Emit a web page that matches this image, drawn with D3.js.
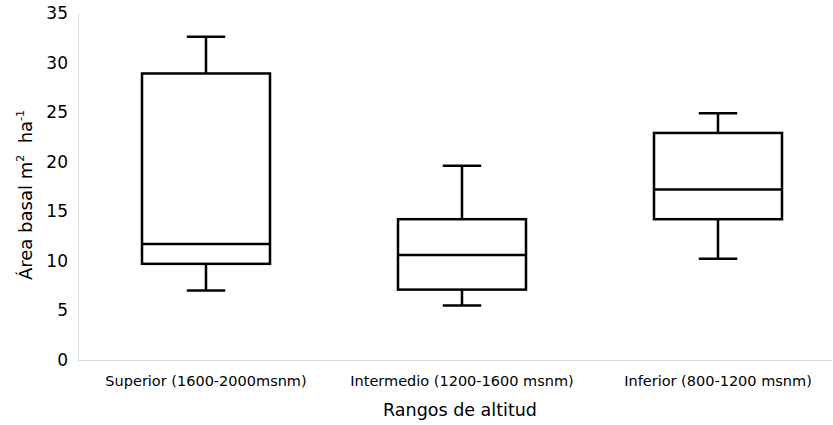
<!DOCTYPE html>
<html>
<head>
<meta charset="utf-8">
<script src="https://cdn.jsdelivr.net/npm/d3@7"></script>
<style>
  body { margin: 0; background: #fff; }
  text { font-family: "DejaVu Sans", Verdana, sans-serif; fill: #000; }
</style>
</head>
<body>
<svg></svg>
<script>
// box plot data
let categories = ['Superior (1600-2000msnm)', 'Intermedio (1200-1600 msnm)', 'Inferior (800-1200 msnm)'];
let minValues = [7.0, 5.5, 10.2];
let q1Values = [9.7, 7.1, 14.2];
let medianValues = [11.7, 10.6, 17.2];
let q3Values = [28.9, 14.2, 22.9];
let maxValues = [32.6, 19.6, 24.9];
let yTicks = [0, 5, 10, 15, 20, 25, 30, 35];

let width = 833;
let height = 425;
let svg = d3.select('svg').attr('width', width).attr('height', height);

let plotLeft = 78, plotRight = 832, plotTop = 13, plotBottom = 360;

let data = categories.map((c, i) => ({
  cat: c, min: minValues[i], q1: q1Values[i], med: medianValues[i], q3: q3Values[i], max: maxValues[i]
}));

let xScale = d3.scaleBand()
  .domain(categories)
  .range([plotLeft, plotLeft + 3 * 256])
  .padding(0);

let yScale = d3.scaleLinear()
  .domain([0, 35])
  .range([plotBottom, plotTop]);

// y axis
let yAxis = svg.append('g')
  .attr('transform', `translate(${plotLeft},0)`)
  .call(d3.axisLeft(yScale).tickValues(yTicks).tickSize(0).tickPadding(10));
yAxis.select('.domain').attr('stroke', '#d9d9d9');
yAxis.selectAll('text').style('font-size', '17px').attr('fill', '#000');

// x axis
svg.append('line')
  .attr('x1', plotLeft).attr('x2', plotRight)
  .attr('y1', plotBottom + 0.5).attr('y2', plotBottom + 0.5)
  .attr('stroke', '#d9d9d9');

let xAxis = svg.append('g')
  .attr('transform', `translate(0,${plotBottom})`)
  .call(d3.axisBottom(xScale).tickSize(0).tickPadding(16));
xAxis.select('.domain').remove();
xAxis.selectAll('text').style('font-size', '14.5px').attr('fill', '#000');

let boxW = xScale.bandwidth() * 0.5;
let capW = xScale.bandwidth() * 0.075;

let g = svg.append('g')
  .selectAll('g')
  .data(data)
  .enter()
  .append('g')
  .attr('transform', d => `translate(${xScale(d.cat) + xScale.bandwidth() / 2},0)`);

let stroke = '#000';
let sw = 2.5;

// whiskers
g.append('line')
  .attr('x1', 0).attr('x2', 0)
  .attr('y1', d => yScale(d.max)).attr('y2', d => yScale(d.q3))
  .attr('stroke', stroke).attr('stroke-width', sw);
g.append('line')
  .attr('x1', 0).attr('x2', 0)
  .attr('y1', d => yScale(d.q1)).attr('y2', d => yScale(d.min))
  .attr('stroke', stroke).attr('stroke-width', sw);
g.append('line')
  .attr('x1', -capW).attr('x2', capW)
  .attr('y1', d => yScale(d.max)).attr('y2', d => yScale(d.max))
  .attr('stroke', stroke).attr('stroke-width', sw);
g.append('line')
  .attr('x1', -capW).attr('x2', capW)
  .attr('y1', d => yScale(d.min)).attr('y2', d => yScale(d.min))
  .attr('stroke', stroke).attr('stroke-width', sw);

// box
g.append('rect')
  .attr('x', -boxW / 2)
  .attr('width', boxW)
  .attr('y', d => yScale(d.q3))
  .attr('height', d => yScale(d.q1) - yScale(d.q3))
  .attr('fill', '#fff')
  .attr('stroke', stroke).attr('stroke-width', sw);

// median
g.append('line')
  .attr('x1', -boxW / 2).attr('x2', boxW / 2)
  .attr('y1', d => yScale(d.med)).attr('y2', d => yScale(d.med))
  .attr('stroke', stroke).attr('stroke-width', sw);

// axis titles
svg.append('text')
  .attr('x', 460)
  .attr('y', 416)
  .attr('text-anchor', 'middle')
  .style('font-size', '17.5px')
  .text('Rangos de altitud');

let yTitle = svg.append('text')
  .attr('transform', 'translate(32,195) rotate(-90)')
  .attr('text-anchor', 'middle')
  .style('font-size', '18px');
yTitle.append('tspan').text('Área basal m');
yTitle.append('tspan').attr('dy', -8).style('font-size', '11px').text('2');
yTitle.append('tspan').attr('dy', 8).text('\u00a0 ha');
yTitle.append('tspan').attr('dy', -8).style('font-size', '11px').text('-1');
</script>
</body>
</html>
